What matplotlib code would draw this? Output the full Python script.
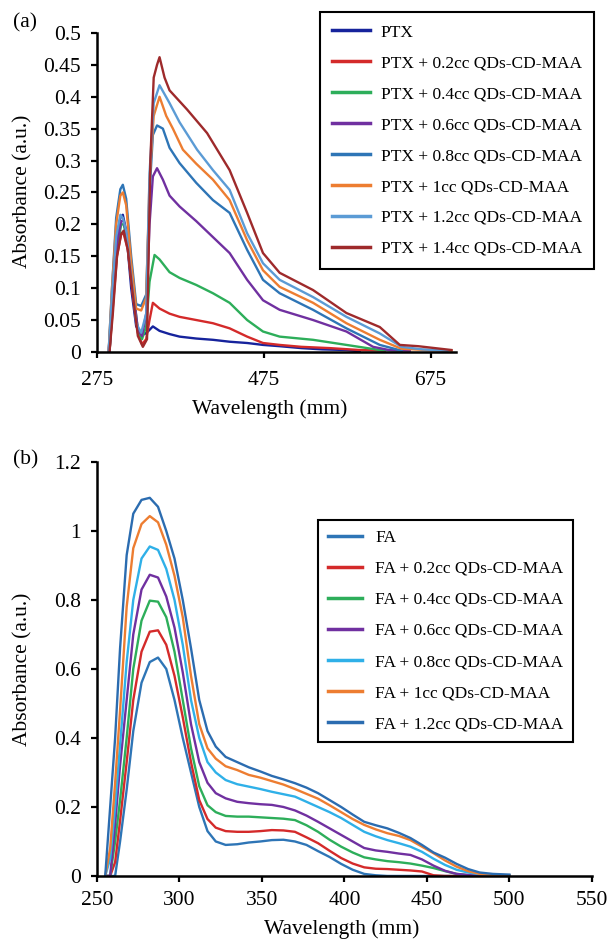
import matplotlib
matplotlib.use('Agg')
import matplotlib.pyplot as plt

plt.rcParams['font.family'] = ['Liberation Serif', 'DejaVu Serif']

# ---- panel (a): PTX series ----
labels_a = ['PTX', 'PTX + 0.2cc QDs-CD-MAA', 'PTX + 0.4cc QDs-CD-MAA', 'PTX + 0.6cc QDs-CD-MAA',
            'PTX + 0.8cc QDs-CD-MAA', 'PTX + 1cc QDs-CD-MAA', 'PTX + 1.2cc QDs-CD-MAA', 'PTX + 1.4cc QDs-CD-MAA']
colors_a = ['#16239c', '#d42a2a', '#2dae5a', '#7030a0', '#2e75b6', '#ed7d31', '#5b9bd5', '#9e2a2b']

ptx_wl = [289, 293, 298, 303, 306, 310, 316, 322, 327, 332, 336, 342, 350, 362, 374, 394, 414, 434, 455, 474, 494, 520, 545, 574, 590]
ptx_ab = [0, 0.08, 0.17, 0.21, 0.215, 0.19, 0.1, 0.04, 0.03, 0.028, 0.032, 0.04, 0.033, 0.028, 0.024, 0.021, 0.019, 0.016, 0.014, 0.011, 0.009, 0.006, 0.004, 0.003, 0.001]

p02_wl = [290, 294, 299, 304, 307, 312, 318, 324, 329, 334, 338, 342, 350, 362, 374, 394, 414, 434, 455, 474, 494, 520, 554, 590, 620]
p02_ab = [0, 0.07, 0.15, 0.185, 0.185, 0.16, 0.09, 0.03, 0.012, 0.02, 0.05, 0.077, 0.068, 0.06, 0.055, 0.05, 0.045, 0.037, 0.024, 0.014, 0.011, 0.008, 0.006, 0.003, 0.002]

p04_wl = [290, 294, 299, 304, 307, 312, 318, 324, 329, 334, 338, 344, 350, 362, 374, 394, 414, 434, 455, 474, 494, 534, 574, 614, 640]
p04_ab = [0, 0.08, 0.16, 0.2, 0.2, 0.17, 0.1, 0.035, 0.02, 0.04, 0.11, 0.152, 0.145, 0.125, 0.116, 0.105, 0.092, 0.077, 0.05, 0.032, 0.024, 0.019, 0.011, 0.003, 0.002]

p06_wl = [290, 294, 299, 304, 307, 312, 318, 324, 329, 334, 338, 342, 347, 354, 362, 374, 394, 414, 434, 455, 474, 494, 534, 574, 606, 625, 650]
p06_ab = [0, 0.08, 0.17, 0.205, 0.205, 0.175, 0.1, 0.035, 0.025, 0.06, 0.2, 0.275, 0.288, 0.27, 0.245, 0.228, 0.205, 0.18, 0.155, 0.113, 0.081, 0.066, 0.05, 0.032, 0.008, 0.003, 0.002]

p08_wl = [289, 293, 298, 303, 306, 310, 316, 322, 328, 334, 338, 342, 347, 354, 362, 374, 394, 414, 434, 455, 474, 494, 534, 574, 614, 640]
p08_ab = [0, 0.1, 0.21, 0.255, 0.262, 0.24, 0.15, 0.075, 0.072, 0.09, 0.25, 0.34, 0.355, 0.35, 0.32, 0.296, 0.265, 0.238, 0.218, 0.16, 0.113, 0.092, 0.066, 0.037, 0.011, 0.002]

p10_wl = [289, 293, 298, 303, 306, 310, 316, 322, 328, 334, 338, 343, 350, 358, 366, 378, 394, 414, 434, 455, 474, 494, 534, 574, 614, 640, 670, 700]
p10_ab = [0, 0.1, 0.2, 0.245, 0.25, 0.23, 0.14, 0.068, 0.065, 0.085, 0.27, 0.37, 0.4, 0.37, 0.35, 0.317, 0.295, 0.27, 0.238, 0.175, 0.128, 0.102, 0.077, 0.045, 0.019, 0.005, 0.003, 0.002]

p12_wl = [289, 293, 298, 303, 306, 310, 316, 322, 328, 334, 338, 343, 350, 362, 374, 395, 414, 434, 455, 474, 494, 534, 574, 614, 640, 665, 695]
p12_ab = [0, 0.09, 0.18, 0.215, 0.21, 0.19, 0.12, 0.045, 0.03, 0.06, 0.28, 0.39, 0.418, 0.39, 0.36, 0.317, 0.285, 0.254, 0.186, 0.139, 0.113, 0.086, 0.055, 0.029, 0.008, 0.004, 0.002]

p14_wl = [290, 294, 299, 304, 307, 312, 318, 324, 330, 335, 339, 343, 347, 350, 356, 362, 383, 407, 434, 455, 474, 494, 534, 574, 614, 638, 660, 680, 700]
p14_ab = [0, 0.06, 0.15, 0.185, 0.19, 0.16, 0.09, 0.025, 0.008, 0.02, 0.3, 0.43, 0.45, 0.462, 0.43, 0.41, 0.38, 0.343, 0.285, 0.218, 0.155, 0.124, 0.097, 0.061, 0.039, 0.011, 0.009, 0.006, 0.003]

series_a = [(ptx_wl, ptx_ab), (p02_wl, p02_ab), (p04_wl, p04_ab), (p06_wl, p06_ab),
            (p08_wl, p08_ab), (p10_wl, p10_ab), (p12_wl, p12_ab), (p14_wl, p14_ab)]

# ---- panel (b): FA series ----
labels_b = ['FA', 'FA + 0.2cc QDs-CD-MAA', 'FA + 0.4cc QDs-CD-MAA', 'FA + 0.6cc QDs-CD-MAA',
            'FA + 0.8cc QDs-CD-MAA', 'FA + 1cc QDs-CD-MAA', 'FA + 1.2cc QDs-CD-MAA']
colors_b = ['#2e75b6', '#d42a2a', '#2dae5a', '#7030a0', '#2fb0e8', '#ed7d31', '#2b6cb0']

wl_b = [255, 258, 261, 264, 268, 272, 277, 282, 287, 292, 297, 302, 307, 312, 317, 322, 328, 335, 342, 349,
        356, 363, 370, 377, 384, 391, 398, 405, 412, 419, 426, 433, 440, 447, 454, 461, 468, 475, 482, 490, 500]
fa_00 = [0, 0, 0, 0.1, 0.25, 0.42, 0.56, 0.62, 0.633, 0.6, 0.51, 0.4, 0.3, 0.2, 0.13, 0.1, 0.09, 0.092, 0.097, 0.1,
         0.104, 0.105, 0.1, 0.09, 0.072, 0.055, 0.035, 0.018, 0.006, 0.002, 0, 0, 0, 0, 0, 0, 0, 0, 0, 0, 0]
fa_02 = [0, 0, 0.04, 0.16, 0.33, 0.51, 0.65, 0.708, 0.712, 0.67, 0.58, 0.46, 0.33, 0.22, 0.165, 0.14, 0.13, 0.128, 0.128, 0.13,
         0.133, 0.132, 0.128, 0.112, 0.095, 0.073, 0.052, 0.036, 0.025, 0.021, 0.02, 0.018, 0.016, 0.013, 0.002, 0, 0, 0, 0, 0, 0]
fa_04 = [0, 0, 0.1, 0.22, 0.4, 0.6, 0.74, 0.798, 0.795, 0.75, 0.65, 0.51, 0.37, 0.26, 0.205, 0.185, 0.174, 0.172, 0.172, 0.17,
         0.168, 0.166, 0.162, 0.147, 0.128, 0.105, 0.085, 0.068, 0.054, 0.048, 0.043, 0.04, 0.036, 0.03, 0.023, 0.014, 0.006, 0.002, 0, 0, 0]
fa_06 = [0, 0, 0.15, 0.32, 0.51, 0.7, 0.83, 0.873, 0.865, 0.81, 0.72, 0.59, 0.44, 0.33, 0.27, 0.24, 0.225, 0.215, 0.211, 0.208,
         0.206, 0.2, 0.19, 0.175, 0.157, 0.138, 0.119, 0.1, 0.081, 0.074, 0.07, 0.065, 0.061, 0.048, 0.03, 0.015, 0.006, 0.003, 0.002, 0.001, 0]
fa_08 = [0, 0.05, 0.2, 0.38, 0.62, 0.8, 0.92, 0.955, 0.945, 0.89, 0.8, 0.67, 0.51, 0.4, 0.33, 0.3, 0.278, 0.266, 0.259, 0.252,
         0.244, 0.237, 0.23, 0.215, 0.2, 0.185, 0.168, 0.148, 0.128, 0.115, 0.104, 0.095, 0.085, 0.07, 0.05, 0.032, 0.018, 0.01, 0.005, 0.003, 0.002]
fa_10 = [0, 0.08, 0.27, 0.48, 0.78, 0.95, 1.02, 1.043, 1.025, 0.96, 0.87, 0.75, 0.58, 0.44, 0.37, 0.34, 0.318, 0.307, 0.293, 0.285,
         0.275, 0.265, 0.252, 0.238, 0.224, 0.205, 0.185, 0.165, 0.148, 0.135, 0.124, 0.116, 0.104, 0.085, 0.066, 0.045, 0.027, 0.014, 0.006, 0.003, 0.002]
fa_12 = [0, 0.2, 0.4, 0.66, 0.93, 1.05, 1.09, 1.096, 1.07, 1.0, 0.92, 0.8, 0.66, 0.51, 0.42, 0.375, 0.345, 0.33, 0.315, 0.303,
         0.29, 0.28, 0.269, 0.256, 0.24, 0.22, 0.2, 0.178, 0.157, 0.147, 0.138, 0.125, 0.11, 0.09, 0.068, 0.053, 0.035, 0.02, 0.01, 0.006, 0.004]
series_b = [fa_00, fa_02, fa_04, fa_06, fa_08, fa_10, fa_12]

FS = 15.5


def style_axes(ax, xpad):
    for side in ['top', 'right']:
        ax.spines[side].set_visible(False)
    for side in ['left', 'bottom']:
        ax.spines[side].set_linewidth(1.8)
    ax.tick_params(direction='out', length=4.5, width=1.6, labelsize=FS)
    ax.tick_params(axis='x', pad=xpad)
    ax.tick_params(axis='y', pad=7)


def make_legend(ax, x, y, hl, ls, bp, htp):
    leg = ax.legend(loc='upper left', bbox_to_anchor=(x, y), bbox_transform=fig.transFigure,
                    fontsize=12.5, frameon=True, fancybox=False, framealpha=1, edgecolor='black',
                    handlelength=hl, handletextpad=htp, labelspacing=ls, borderpad=bp,
                    borderaxespad=0)
    leg.get_frame().set_linewidth(1.5)
    for h in leg.get_lines():
        h.set_linewidth(2.5)
    return leg


fig = plt.figure(figsize=(6.08, 9.41), dpi=100)

# panel (a)
ax1 = fig.add_axes([0.1595, 0.626, 0.59, 0.339])
for (wl, ab), c, lab in zip(series_a, colors_a, labels_a):
    ax1.plot(wl, ab, color=c, lw=1.7, label=lab)
ax1.set_xlim(275, 705)
ax1.set_ylim(0, 0.5)
ax1.set_xticks([275, 475, 675])
ax1.set_yticks([0, 0.05, 0.1, 0.15, 0.2, 0.25, 0.3, 0.35, 0.4, 0.45, 0.5])
ax1.set_yticklabels(['0', '0.05', '0.1', '0.15', '0.2', '0.25', '0.3', '0.35', '0.4', '0.45', '0.5'])
style_axes(ax1, 9)
ax1.set_xlabel('Wavelength (mm)', fontsize=FS)
ax1.xaxis.set_label_coords(0.482, -0.147)
fig.text(0.038, 1 - 191 / 941, 'Absorbance (a.u.)', fontsize=FS, rotation=90, ha='center', va='center')
make_legend(ax1, 0.526, 0.987, 2.2, 0.85, 0.7, 0.6)
fig.text(0.022, 0.9756, '(a)', fontsize=FS, va='center')

# panel (b)
ax2 = fig.add_axes([0.1595, 0.0691, 0.814, 0.44])
for ab, c, lab in zip(series_b, colors_b, labels_b):
    ax2.plot(wl_b, ab, color=c, lw=1.7, label=lab)
ax2.set_xlim(250, 550)
ax2.set_ylim(0, 1.2)
ax2.set_xticks([250, 300, 350, 400, 450, 500, 550])
ax2.set_yticks([0, 0.2, 0.4, 0.6, 0.8, 1.0, 1.2])
ax2.set_yticklabels(['0', '0.2', '0.4', '0.6', '0.8', '1', '1.2'])
style_axes(ax2, 6.5)
ax2.set_xlabel('Wavelength (mm)', fontsize=FS)
ax2.xaxis.set_label_coords(0.495, -0.104)
fig.text(0.038, 1 - 669 / 941, 'Absorbance (a.u.)', fontsize=FS, rotation=90, ha='center', va='center')
make_legend(ax2, 0.523, 0.4474, 2.0, 0.86, 0.55, 0.75)
fig.text(0.022, 0.511, '(b)', fontsize=FS, va='center')

fig.savefig('out.png', dpi=100)
